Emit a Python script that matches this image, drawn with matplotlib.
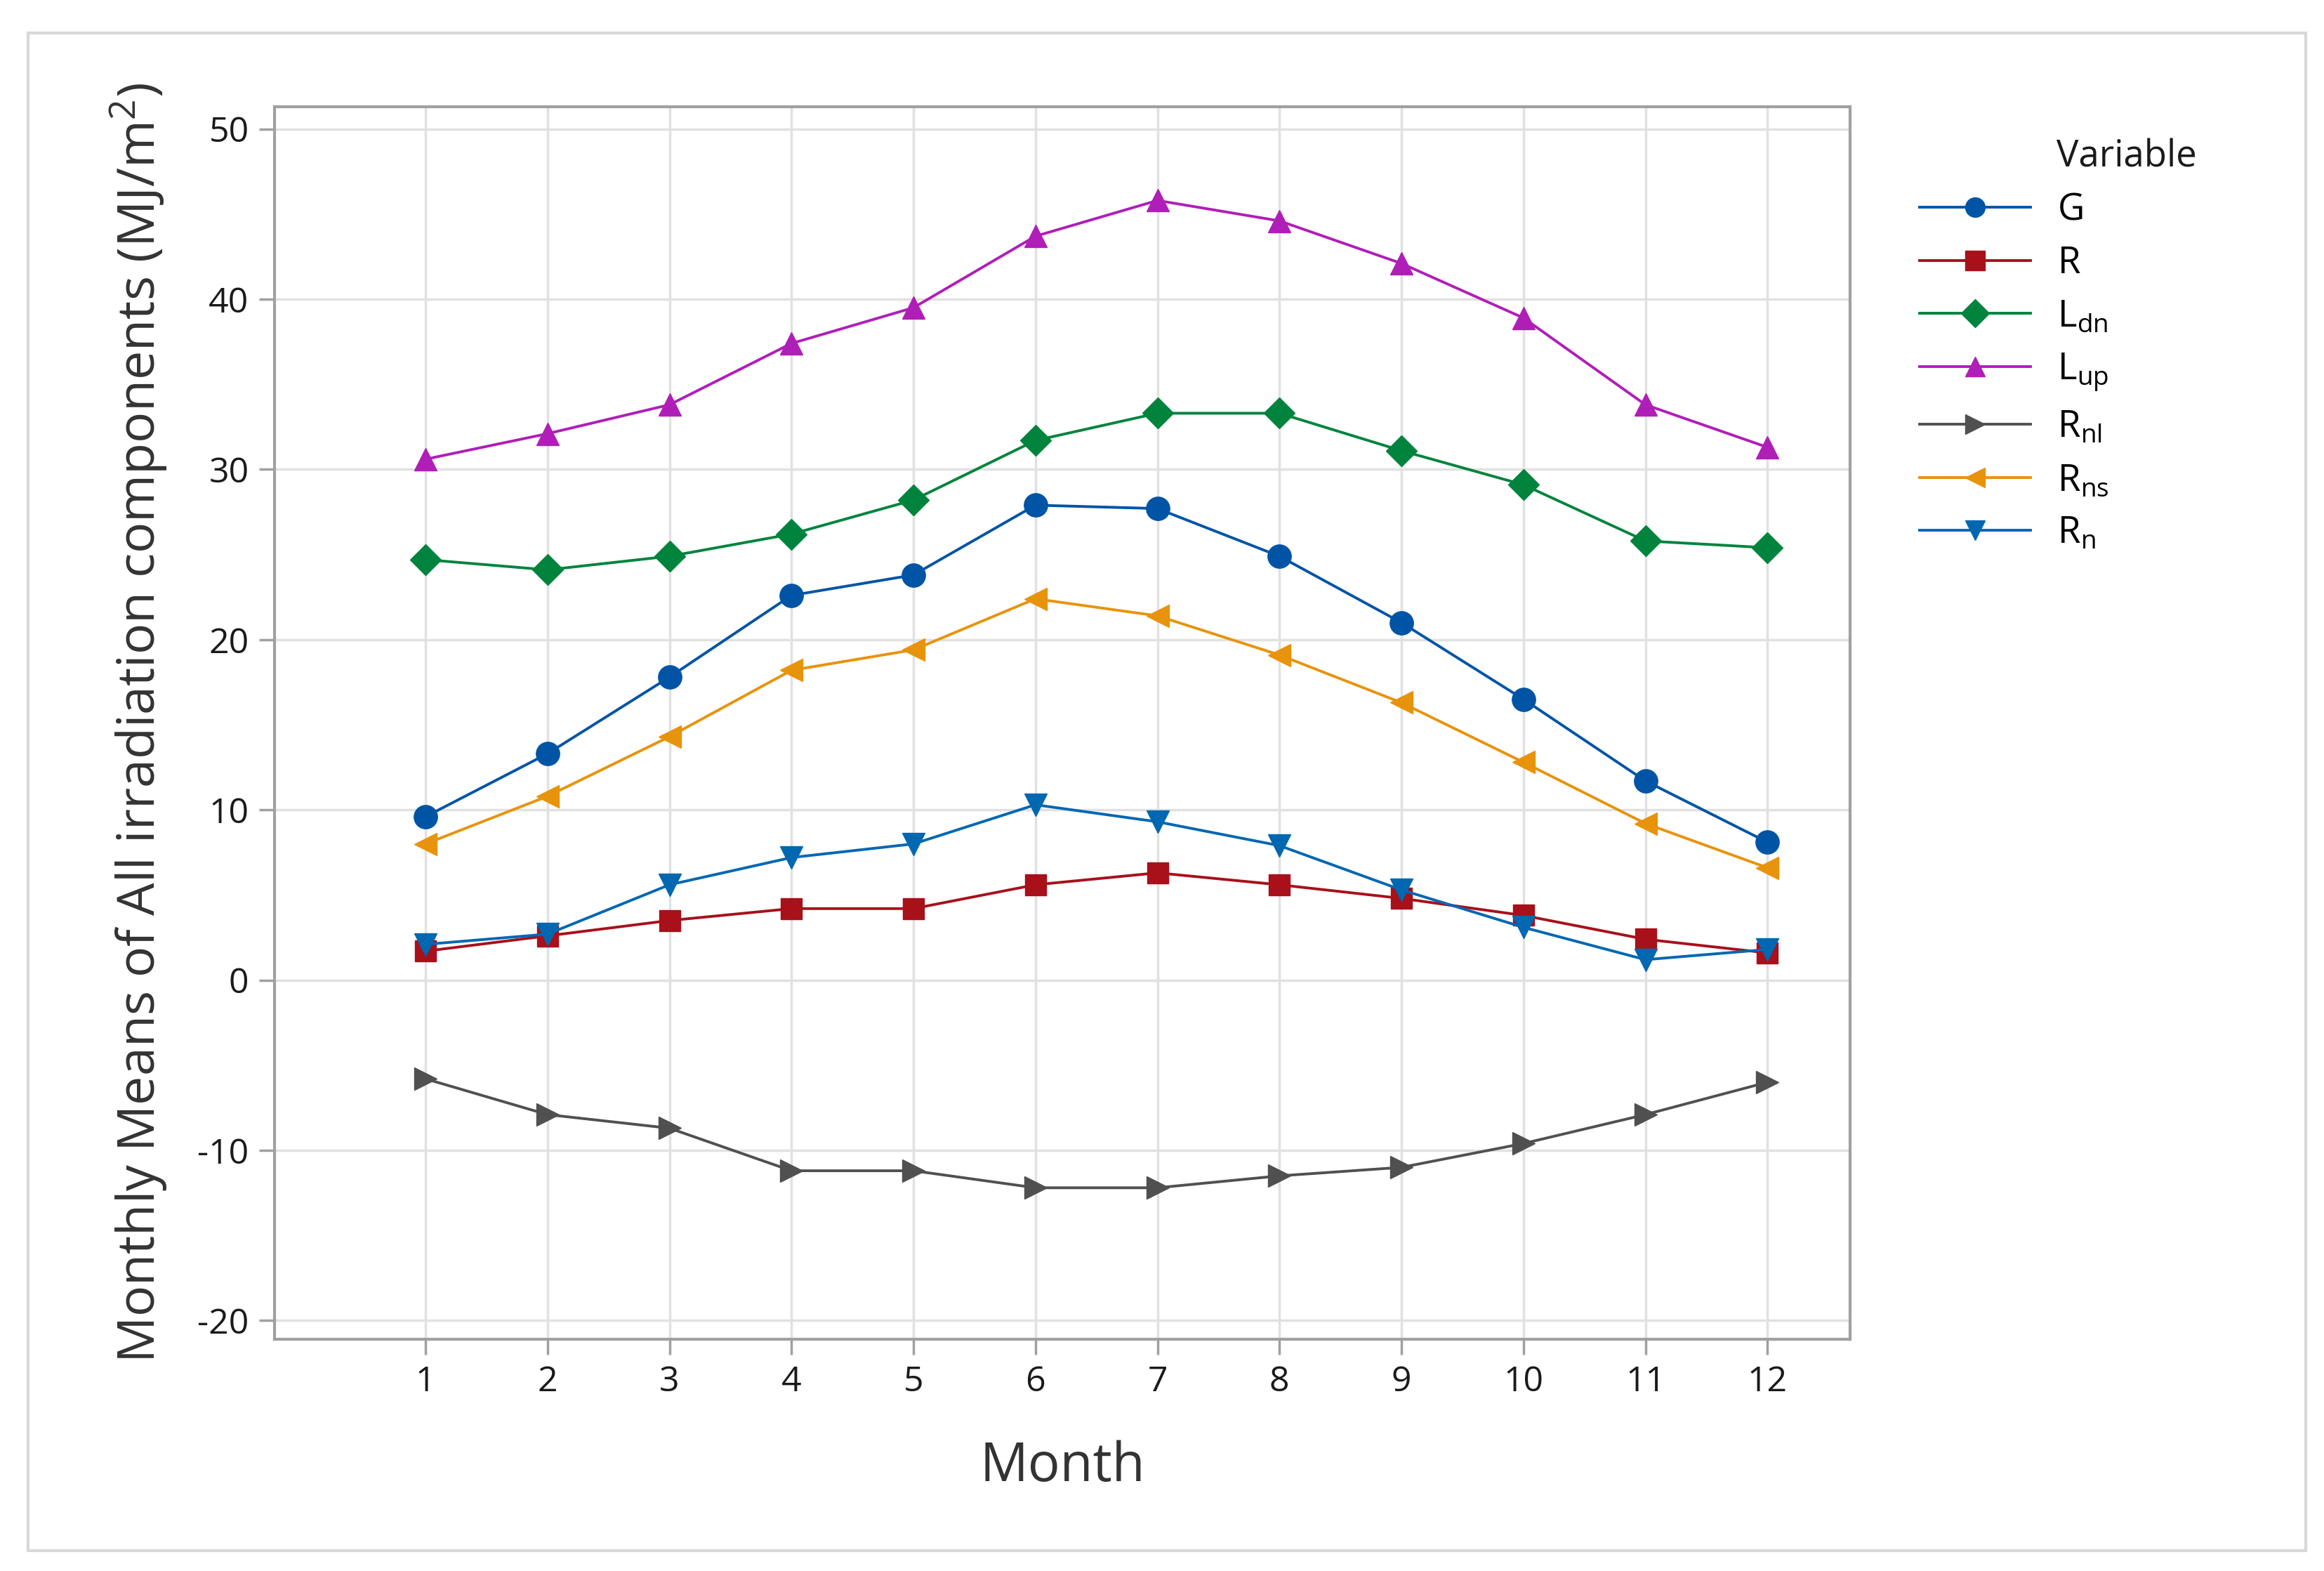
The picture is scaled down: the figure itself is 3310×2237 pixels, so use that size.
import numpy as np
import matplotlib.pyplot as plt
from matplotlib.patches import Rectangle

plt.rcParams['font.family'] = ['Open Sans', 'DejaVu Sans']
plt.rcParams['mathtext.default'] = 'regular'
plt.rcParams['axes.unicode_minus'] = False

months = list(range(1, 13))

G = [9.6, 13.3, 17.8, 22.6, 23.8, 27.9, 27.7, 24.9, 21.0, 16.5, 11.7, 8.1]
R = [1.7, 2.6, 3.5, 4.2, 4.2, 5.6, 6.3, 5.6, 4.8, 3.8, 2.4, 1.6]
L_dn = [24.7, 24.1, 24.9, 26.2, 28.2, 31.7, 33.3, 33.3, 31.1, 29.1, 25.8, 25.4]
L_up = [30.6, 32.1, 33.8, 37.4, 39.5, 43.7, 45.8, 44.6, 42.1, 38.9, 33.8, 31.3]
R_nl = [-5.8, -7.9, -8.7, -11.2, -11.2, -12.2, -12.2, -11.5, -11.0, -9.6, -7.9, -6.0]
R_ns = [8.0, 10.8, 14.3, 18.2, 19.4, 22.4, 21.4, 19.1, 16.3, 12.8, 9.2, 6.6]
R_n = [2.1, 2.7, 5.6, 7.2, 8.0, 10.3, 9.3, 7.9, 5.3, 3.1, 1.2, 1.8]

labels = ['G', 'R', '$L_{dn}$', '$L_{up}$', '$R_{nl}$', '$R_{ns}$', '$R_{n}$']
series = [G, R, L_dn, L_up, R_nl, R_ns, R_n]
colors = ['#0054a6', '#a8101a', '#00843d', '#b01eb8', '#505050', '#e8930c', '#0067b1']
markers = ['o', 's', 'D', '^', '>', '<', 'v']
sizes = [24, 22, 22, 23, 23, 23, 23]

fig = plt.figure(figsize=(33.1, 22.37), dpi=100)
fig.patches.append(Rectangle((0.012, 0.013), 0.98, 0.966, transform=fig.transFigure,
                             fill=False, edgecolor='#d8d8d8', linewidth=3))
ax = fig.add_axes([0.1180, 0.1475, 0.6782, 0.7845])

for y, lab, c, m, s in zip(series, labels, colors, markers, sizes):
    ax.plot(months, y, color=c, linewidth=2.8, marker=m, markersize=s,
            markerfacecolor=c, markeredgecolor=c, label=lab)

ax.set_xlim(-0.24, 12.68)
ax.set_ylim(-21.1, 51.3)
ax.set_xticks(months)
ax.set_yticks(range(-20, 51, 10))
ax.grid(True, color='#e1e1e1', linewidth=2.5)
ax.set_axisbelow(True)
for sp in ax.spines.values():
    sp.set_color('#a0a0a0')
    sp.set_linewidth(3)
ax.tick_params(axis='both', colors='#a0a0a0', length=16, width=2.5,
               labelsize=36, labelcolor='#1a1a1a', pad=10)

ax.set_xlabel('Month', fontsize=55, color='#333333', labelpad=42)
ax.set_ylabel('Monthly Means of All irradiation components (MJ/m$^2$)',
              fontsize=53, color='#333333', labelpad=28)

leg = fig.legend(*ax.get_legend_handles_labels(), loc='upper left',
                 bbox_to_anchor=(0.826, 0.878), bbox_transform=fig.transFigure,
                 frameon=False, fontsize=38, borderpad=0, borderaxespad=0,
                 handlelength=3.0, labelspacing=0.42, handletextpad=0.72)
for h in leg.legend_handles:
    h.set_markersize(20)
fig.text(0.885, 0.900, 'Variable', fontsize=38, color='#1a1a1a',
         ha='left', va='center')

fig.savefig('out.png', dpi=100)
